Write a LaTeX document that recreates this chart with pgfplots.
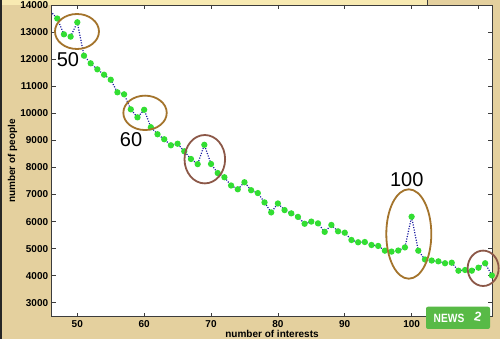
\documentclass[border=0pt]{standalone}
\usepackage{pgfplots}
\pgfplotsset{compat=1.18}
\usepackage{fontspec}
\setmainfont{Liberation Sans}
\definecolor{bg}{RGB}{228,208,158}
\definecolor{titlebar}{RGB}{248,234,178}
\definecolor{ptgreen}{RGB}{50,222,50}
\definecolor{lineblue}{RGB}{25,25,160}
\definecolor{goldbrown}{RGB}{164,116,44}
\definecolor{redbrown}{RGB}{140,88,72}
\definecolor{newsgreen}{RGB}{88,186,70}
\definecolor{frame}{RGB}{60,60,60}
\begin{document}
\begin{tikzpicture}
\useasboundingbox (0,0) rectangle (500pt,339pt);
\fill[bg] (0,0) rectangle (500pt,339pt);
\fill[black!85] (0,0) rectangle (1.8pt,339pt);
\fill[titlebar] (1.8pt,334pt) rectangle (427pt,339pt);
\draw[frame,line width=0.8pt] (427pt,334pt) -- (427pt,339pt);
\begin{axis}[
  at={(51.7pt,22.3pt)}, anchor=south west,
  scale only axis, width=440.6pt, height=311.7pt,
  xmin=46.17, xmax=112.07, ymin=2483, ymax=14010,
  axis background/.style={fill=white},
  axis line style={frame, line width=0.8pt},
  xtick={50,60,...,110}, ytick={3000,4000,...,14000},
  xticklabels={50,60,70,80,90,100,{}},
  scaled ticks=false,
  /pgf/number format/1000 sep={},
  /pgf/number format/assume math mode=true,
  tick style={frame, line width=0.7pt},
  major tick length=4pt,
  tick align=inside,
  ticklabel style={font=\bfseries\fontsize{10}{12}\selectfont, text=black},
  xlabel={number of interests},
  ylabel={number of people},
  label style={font=\bfseries\fontsize{10}{12}\selectfont},
  xlabel style={at={(axis description cs:0.5,0)}, anchor=center, yshift=-17.5pt},
  ylabel style={at={(axis description cs:-0.089,0.5)}, anchor=center},
]
\addplot[lineblue, line width=1.2pt, dash pattern=on 1.1pt off 1.5pt,
  mark=*, mark size=2.5pt, mark options={solid, fill=ptgreen, draw=ptgreen}]
  table {
x y
46 13770
47 13510
48 12925
49 12840
50 13370
51 12135
52 11853
53 11630
54 11432
55 11246
56 10781
57 10706
58 10151
59 9855
60 10135
61 9490
62 9230
63 9045
64 8822
65 8880
66 8600
67 8315
68 8125
69 8840
70 8130
71 7795
72 7640
73 7335
74 7195
75 7455
76 7160
77 7055
78 6710
79 6340
80 6670
81 6425
82 6305
83 6175
84 5920
85 6000
86 5935
87 5620
88 5875
89 5640
90 5590
91 5320
92 5235
93 5245
94 5135
95 5100
96 4925
97 4890
98 4930
99 5045
100 6180
101 4925
102 4600
103 4560
104 4530
105 4460
106 4480
107 4185
108 4210
109 4185
110 4295
111 4460
112 4010
};
\coordinate (e1) at (axis cs:49.95,13030);
\coordinate (e2) at (axis cs:60.13,10022);
\coordinate (e3) at (axis cs:69.07,8307);
\coordinate (e4) at (axis cs:99.58,5541);
\coordinate (e5) at (axis cs:110.7,4273);
\coordinate (t1) at (axis cs:48.6,11976);
\coordinate (t2) at (axis cs:58.04,9017);
\coordinate (t3) at (axis cs:99.28,7538);
\end{axis}
\draw[goldbrown, line width=1.8pt] (e1) ellipse [x radius=22pt, y radius=17.5pt];
\draw[goldbrown, line width=1.8pt] (e2) ellipse [x radius=21.7pt, y radius=17.2pt];
\draw[redbrown, line width=1.8pt] (e3) ellipse [x radius=20.3pt, y radius=24.2pt];
\draw[goldbrown, line width=1.8pt] (e4) ellipse [x radius=22.5pt, y radius=44.7pt];
\draw[redbrown, line width=1.8pt] (e5) ellipse [x radius=15.5pt, y radius=17.7pt];
\node[font=\fontsize{20}{20}\selectfont, inner sep=0pt] at (t1) {50};
\node[font=\fontsize{20}{20}\selectfont, inner sep=0pt] at (t2) {60};
\node[font=\fontsize{20}{20}\selectfont, inner sep=0pt] at (t3) {100};
\fill[newsgreen, rounded corners=2pt] (426pt,10pt) rectangle (490pt,32.3pt);
\node[white, font=\bfseries\fontsize{12}{12}\selectfont, inner sep=0pt, xscale=0.85] at (449pt,21pt) {NEWS};
\node[white, font=\bfseries\fontsize{13}{13}\selectfont, inner sep=0pt, rotate=-10] at (478pt,22pt) {2};
\end{tikzpicture}
\end{document}
